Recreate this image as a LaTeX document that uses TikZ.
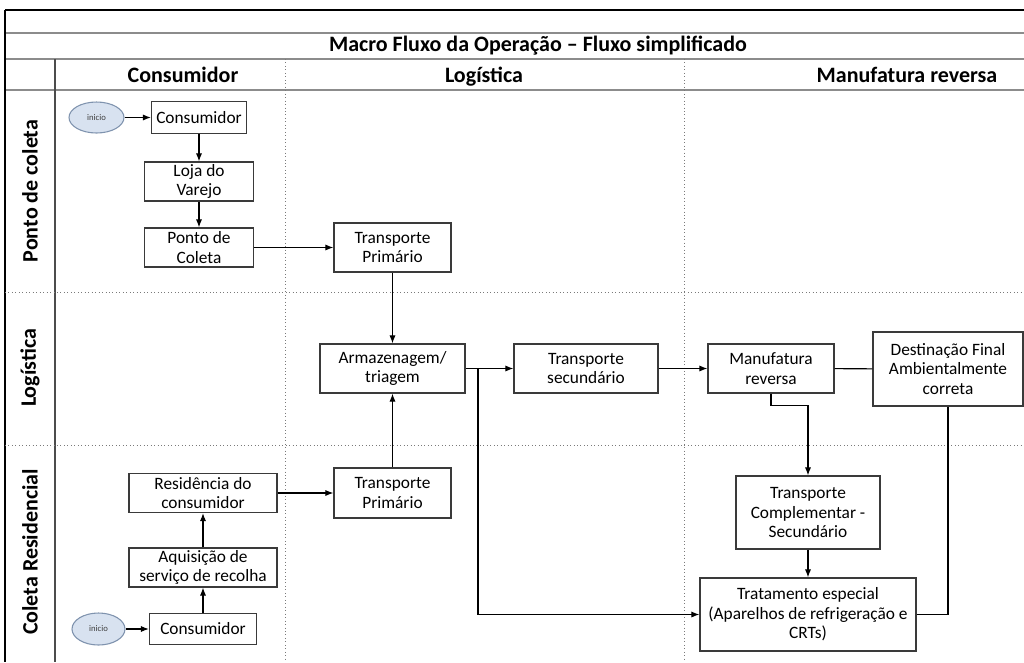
\documentclass[tikz,border=0pt]{standalone}
\usepackage{fontspec}
\setmainfont{Carlito}
\usetikzlibrary{arrows.meta,shapes.geometric}

\definecolor{framegray}{HTML}{8C8C8C}
\definecolor{lanegray}{HTML}{7A7A7A}
\definecolor{boxline}{HTML}{3A3A3A}
\definecolor{startfill}{HTML}{D8E2F0}
\definecolor{startline}{HTML}{7F93AE}

\tikzset{
  flowbox/.style={draw=boxline, line width=0.9pt, fill=white, inner sep=1pt,
    align=center, font=\fontsize{13}{14.5}\selectfont},
  startnode/.style={ellipse, draw=startline, line width=0.8pt, fill=startfill,
    inner sep=0pt, font=\fontsize{6.5}{7}\selectfont, text=black!75},
  arr/.style={-{Latex[length=6pt,width=4.6pt]}, line width=0.8pt},
  link/.style={line width=0.8pt},
  bandline/.style={framegray, line width=1.4pt},
  laneline/.style={lanegray, line width=0.6pt, dotted},
  headtext/.style={anchor=base, font=\fontsize{16.5}{18}\selectfont\bfseries},
  lanetext/.style={rotate=90, font=\fontsize{16.5}{18}\selectfont\bfseries}
}

\begin{document}
\begin{tikzpicture}[x=0.75pt,y=-0.75pt]
\useasboundingbox (0,0) rectangle (1024,662);

% table frame
\draw[black, line width=0.8pt] (5,10) -- (1024,10);
\draw[bandline] (5,33) -- (1024,33);
\draw[bandline] (5,59) -- (1024,59);
\draw[bandline] (5,90) -- (1024,90);
\draw[black, line width=0.8pt] (5,10) -- (5,662);
\draw[black!70, line width=0.8pt] (55,59) -- (55,662);

% swimlane separators
\draw[laneline] (285,59) -- (285,662);
\draw[laneline] (684,59) -- (684,662);
\draw[laneline] (5,292) -- (1024,292);
\draw[laneline] (5,445) -- (1024,445);

% title and column headers
\node[headtext] (title) at (538,51) {Macro Fluxo da Operação – Fluxo simplificado};
\node[headtext] (hcons) at (183,82) {Consumidor};
\node[headtext] (hlog) at (484,82) {Logística};
\node[headtext] (hman) at (907,82) {Manufatura reversa};

% lane labels
\node[lanetext] (lpc) at (30,191) {Ponto de coleta};
\node[lanetext] (llog) at (30,368) {Logística};
\node[lanetext] (lcr) at (30,552) {Coleta Residencial};

% lane 1: ponto de coleta
\node[startnode, minimum width=41.25pt, minimum height=23.25pt] (ini1) at (96.5,117.5) {inicio};
\node[flowbox, minimum width=71.25pt, minimum height=24pt] (cons1) at (199,117.5) {Consumidor};
\node[flowbox, minimum width=81.75pt, minimum height=29.25pt] (loja) at (199,181.5) {Loja do\\Varejo};
\node[flowbox, minimum width=81.75pt, minimum height=29.25pt] (ponto) at (199,247.5) {Ponto de\\Coleta};
\node[flowbox, minimum width=87.75pt, minimum height=36.75pt] (tp1) at (392.5,247.5) {Transporte\\Primário};

% lane 2: logistica
\node[flowbox, minimum width=108.75pt, minimum height=36.75pt] (arm) at (392.5,368.5) {Armazenagem/\\triagem};
\node[flowbox, minimum width=108pt, minimum height=36.75pt] (ts) at (586,368.5) {Transporte\\secundário};
\node[flowbox, minimum width=94.5pt, minimum height=36.75pt] (manu) at (771,368.5) {Manufatura\\reversa};
\node[flowbox, minimum width=112.5pt, minimum height=55.5pt] (dest) at (948,369) {Destinação Final\\Ambientalmente\\correta};

% lane 3: coleta residencial
\node[flowbox, minimum width=111pt, minimum height=29.25pt] (res) at (203,493) {Residência do\\consumidor};
\node[flowbox, minimum width=111pt, minimum height=29.25pt] (aq) at (203,567.5) {Aquisição de\\serviço de recolha};
\node[flowbox, minimum width=80.25pt, minimum height=23.25pt] (cons2) at (203,629) {Consumidor};
\node[startnode, minimum width=39.75pt, minimum height=24pt] (ini2) at (98.5,629) {inicio};
\node[flowbox, minimum width=87.75pt, minimum height=37.5pt] (tp2) at (392.5,493) {Transporte\\Primário};
\node[flowbox, minimum width=108pt, minimum height=54.75pt] (tc) at (808,512.5) {Transporte\\Complementar -\\Secundário};
\node[flowbox, minimum width=162pt, minimum height=54.75pt] (trat) at (808,614.5) {Tratamento especial\\(Aparelhos de refrigeração e\\CRTs)};

\coordinate (br) at (478,368.5);

% connectors
\draw[arr] (ini1) -- (cons1);
\draw[arr] (cons1) -- (loja);
\draw[arr] (loja) -- (ponto);
\draw[arr] (ponto) -- (tp1);
\draw[arr] (tp1) -- (arm);
\draw[arr] (tp2) -- (arm);
\draw[arr] (ini2) -- (cons2);
\draw[arr] (cons2) -- (aq);
\draw[arr] (aq) -- (res);
\draw[arr] (res) -- (tp2);
\draw[arr] (arm) -- (ts);
\draw[arr] (br) |- (trat.west);
\draw[arr] (ts) -- (manu);
\draw[link] (manu) -- (dest);
\draw[arr] (manu.south) -- ++(0,12) -| (tc.north);
\draw[arr] (tc) -- (trat);
\draw[link] (trat.east) -| (dest.south);
\end{tikzpicture}
\end{document}
